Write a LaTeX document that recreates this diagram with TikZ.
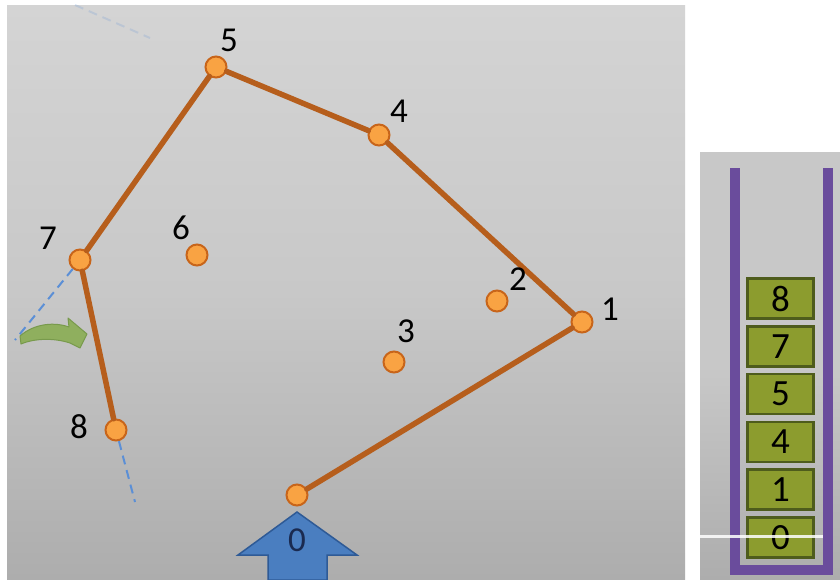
\documentclass[tikz,border=0pt]{standalone}
\usepackage{fontspec}
\setmainfont{Carlito}
\definecolor{panelTop}{HTML}{D4D4D4}
\definecolor{panelMid}{HTML}{C8C8C8}
\definecolor{panelBot}{HTML}{ADADAD}
\definecolor{dotFill}{HTML}{F9A343}
\definecolor{dotBorder}{HTML}{C8651A}
\definecolor{hullCol}{HTML}{B65E1C}
\definecolor{guideBlue}{HTML}{5B8FD6}
\definecolor{arrowFill}{HTML}{4A7EC0}
\definecolor{arrowBorder}{HTML}{2E5A96}
\definecolor{greenFill}{HTML}{8FAF5E}
\definecolor{greenBorder}{HTML}{789A4C}
\definecolor{stackPurple}{HTML}{6A4C9C}
\definecolor{boxFill}{HTML}{8C9C2E}
\definecolor{boxBorder}{HTML}{4E5C1C}
\definecolor{zeroText}{HTML}{1A2A50}
\begin{document}
\begin{tikzpicture}[x=1pt,y=-1pt,
  dot/.style={circle,draw=dotBorder,fill=dotFill,line width=2pt,minimum size=21pt,inner sep=0pt},
  lbl/.style={font=\fontsize{35}{40}\selectfont,text=black,inner sep=0pt},
  hull/.style={draw=hullCol,line width=5.5pt,line cap=round,line join=round},
  guide/.style={draw=guideBlue,line width=2pt,dash pattern=on 9pt off 6pt},
  stackbox/.style={draw=boxBorder,fill=boxFill,line width=2.5pt,minimum width=66pt,minimum height=40pt,inner sep=0pt,font=\fontsize{37}{40}\selectfont,text=black}]
\useasboundingbox (0,0) rectangle (840,579);
\fill[white] (0,0) rectangle (840,579);
% panels
\shade[top color=panelTop,bottom color=panelBot,middle color=panelMid] (7,5) rectangle (685,579);
\shade[top color=panelMid,bottom color=panelBot,middle color=panelMid] (700,152) rectangle (840,579);
% faint guide at top
\draw[guide,opacity=0.2] (75,5) -- (150,38);
% points
\node[dot] (p0) at (297,495) {};
\node[dot] (p1) at (582,322) {};
\node[dot] (p2) at (497,301) {};
\node[dot] (p3) at (394,362) {};
\node[dot] (p4) at (379,135) {};
\node[dot] (p5) at (216,67) {};
\node[dot] (p6) at (197,255) {};
\node[dot] (p7) at (80,260) {};
\node[dot] (p8) at (116,430) {};
% dashed guides
\coordinate (g7) at (15,340);
\coordinate (g8) at (135,502);
\draw[guide] (p7) -- (g7);
\draw[guide] (p8) -- (g8);
% hull
\draw[hull] (p0) -- (p1) -- (p4) -- (p5) -- (p7) -- (p8);
% labels
\node[lbl] (l1) at (610,309) {1};
\node[lbl] (l2) at (518,279) {2};
\node[lbl] (l3) at (406,331) {3};
\node[lbl] (l4) at (399,111) {4};
\node[lbl] (l5) at (229,40) {5};
\node[lbl] (l6) at (181,228) {6};
\node[lbl] (l7) at (48,238) {7};
\node[lbl] (l8) at (79,427) {8};
% green turn arrow
\draw[draw=greenBorder,fill=greenFill,line width=1pt,line join=round]
  (20,336) .. controls (35,323) and (55,322) .. (69,327) -- (68,318) -- (87,334) -- (80,348)
  -- (70,343) .. controls (55,338) and (35,338) .. (21,344) -- cycle;
% blue up arrow
\draw[draw=arrowBorder,fill=arrowFill,line width=1.5pt,line join=miter]
  (297,512) -- (357,555) -- (327,555) -- (327,580) -- (268,580) -- (268,555) -- (238,555) -- cycle;
\node[font=\fontsize{35}{40}\selectfont,text=zeroText,inner sep=0pt] (l0) at (297,540) {0};
% stack
\draw[stackPurple,line width=10pt,line join=miter] (735,168) -- (735,570) -- (828,570) -- (828,168);
\node[stackbox] (s8) at (780.5,298.5) {8};
\node[stackbox] (s7) at (780.5,346.3) {7};
\node[stackbox] (s5) at (780.5,394.1) {5};
\node[stackbox] (s4) at (780.5,441.9) {4};
\node[stackbox] (s1) at (780.5,489.7) {1};
\node[stackbox] (s0) at (780.5,537.5) {0};
\draw[white,opacity=0.85,line width=3pt] (700,536) -- (823,536);
\end{tikzpicture}
\end{document}
